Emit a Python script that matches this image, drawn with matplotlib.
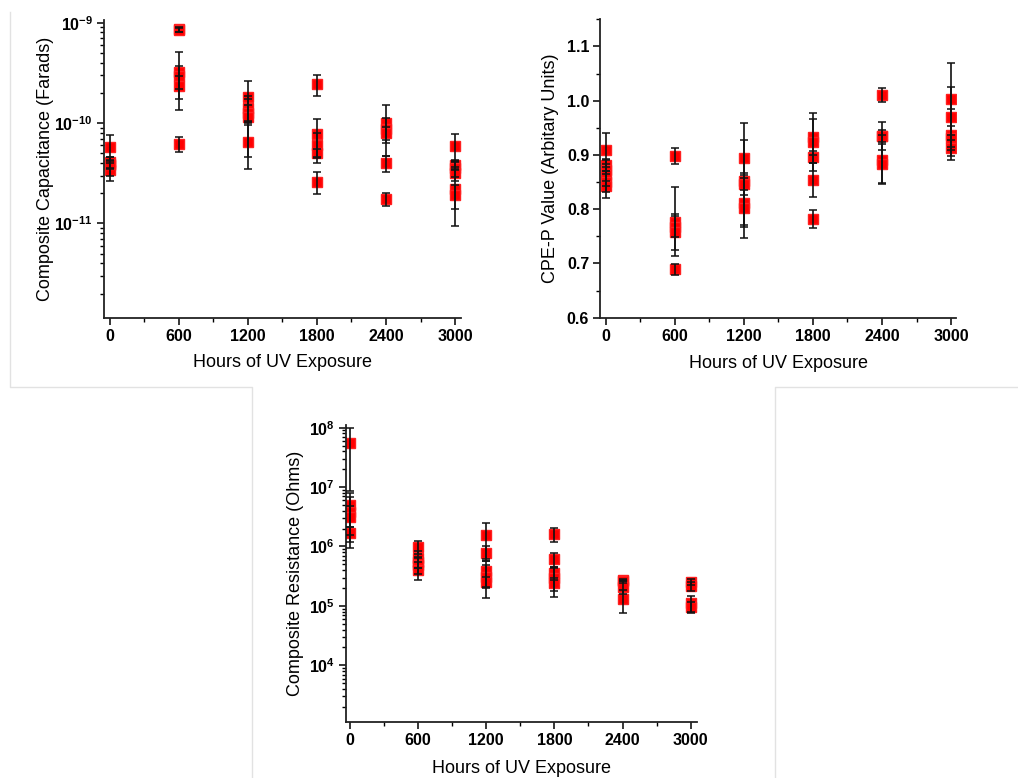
import numpy as np
import matplotlib
matplotlib.use('Agg')
import matplotlib.pyplot as plt
from matplotlib.lines import Line2D
from matplotlib.ticker import FixedLocator, LogLocator, FuncFormatter, NullFormatter, MultipleLocator

plt.rcParams['font.family'] = ['Liberation Sans', 'DejaVu Sans']
plt.rcParams['mathtext.fontset'] = 'custom'
plt.rcParams['mathtext.rm'] = 'Liberation Sans'
plt.rcParams['mathtext.bf'] = 'Liberation Sans:bold'

hours = [0, 600, 1200, 1800, 2400, 3000]

# composite capacitance (F), one list per exposure time
cap_vals = [[5.8e-11, 4.1e-11, 3.8e-11, 3.4e-11, 3.9e-11],
            [8.6e-10, 8.4e-10, 3.25e-10, 2.94e-10, 2.34e-10, 6.2e-11],
            [1.83e-10, 1.4e-10, 1.25e-10, 1.16e-10, 6.5e-11],
            [2.43e-10, 7.8e-11, 6.0e-11, 5.0e-11, 2.6e-11],
            [9.9e-11, 8.8e-11, 7.9e-11, 3.96e-11, 1.75e-11],
            [5.9e-11, 3.8e-11, 3.6e-11, 3.15e-11, 2.2e-11, 1.9e-11]]
cap_errs = [[1.8e-11, 0.5e-11, 0.8e-11, 0.75e-11, 0.4e-11],
            [0.5e-10, 0.4e-10, 1.9e-10, 0.78e-10, 0.6e-10, 1.1e-11],
            [0.8e-10, 0.35e-10, 0.25e-10, 0.7e-10, 3.0e-11],
            [0.55e-10, 3.2e-11, 2.0e-11, 0.5e-11, 0.62e-11],
            [5.2e-11, 2.5e-11, 1.2e-11, 0.7e-11, 0.27e-11],
            [1.8e-11, 0.4e-11, 0.7e-11, 0.5e-11, 1.25e-11, 0.5e-11]]

# CPE-P exponent
cpe_vals = [[0.909, 0.881, 0.872, 0.863, 0.851, 0.842],
            [0.898, 0.777, 0.768, 0.758, 0.689],
            [0.895, 0.852, 0.847, 0.812, 0.803],
            [0.933, 0.924, 0.897, 0.854, 0.782],
            [1.010, 0.935, 0.935, 0.891, 0.884],
            [1.003, 0.970, 0.937, 0.932, 0.913]]
cpe_errs = [[0.031, 0.010, 0.020, 0.020, 0.020, 0.022],
            [0.014, 0.063, 0.020, 0.033, 0.010],
            [0.032, 0.106, 0.020, 0.045, 0.032],
            [0.033, 0.053, 0.011, 0.032, 0.016],
            [0.013, 0.011, 0.026, 0.045, 0.036],
            [0.067, 0.056, 0.047, 0.022, 0.015]]

# composite resistance (Ohm)
res_vals = [[5.45e7, 4.99e6, 3.86e6, 3.18e6, 1.67e6],
            [9.9e5, 6.3e5, 5.5e5, 4.9e5, 4.1e5],
            [1.56e6, 7.9e5, 3.8e5, 3.1e5, 2.56e5],
            [1.62e6, 6.1e5, 3.6e5, 2.9e5, 2.4e5],
            [2.7e5, 2.6e5, 2.1e5, 1.29e5],
            [2.56e5, 2.16e5, 1.14e5, 9.5e4]]
res_errs = [[4.6e7, 2.9e6, 2.9e6, 1.6e6, 0.5e6],
            [2.5e5, 2.0e5, 1.2e5, 1.4e5, 1.4e5],
            [0.95e6, 2.1e5, 1.8e5, 1.75e5, 0.5e5],
            [0.43e6, 1.6e5, 0.9e5, 1.47e5, 0.6e5],
            [0.1e5, 0.15e5, 0.5e5, 0.54e5],
            [0.3e5, 0.4e5, 0.35e5, 2.0e4]]

W, H = 1018, 778


def px_rect(left, top, right, bottom):
    return [left / W, 1 - bottom / H, (right - left) / W, (bottom - top) / H]


def draw_groups(ax, vals, errs):
    for h, v, e in zip(hours, vals, errs):
        x = [h] * len(v)
        ax.plot(x, v, 's', color='#ff0000', mec='#ff2020', ms=7, zorder=2)
        ax.errorbar(x, v, yerr=e, fmt='none', ecolor='#111111', elinewidth=1.2,
                    capsize=3, capthick=1.1, zorder=3)


def style_axes(ax, xlim, ylabel, ylab_x):
    ax.set_xlim(*xlim)
    for s in ['top', 'right']:
        ax.spines[s].set_visible(False)
    for s in ['left', 'bottom']:
        ax.spines[s].set_linewidth(1.3)
        ax.spines[s].set_color('#222222')
    ax.xaxis.set_major_locator(FixedLocator(hours))
    ax.xaxis.set_minor_locator(MultipleLocator(300))
    ax.tick_params(which='major', direction='out', length=5, width=1.1,
                   labelsize=11.5, pad=3)
    ax.tick_params(which='minor', direction='out', length=2.8, width=1.0)
    for lab in ax.get_xticklabels() + ax.get_yticklabels():
        lab.set_fontweight('bold')
    ax.set_xlabel('Hours of UV Exposure', fontsize=13)
    ax.set_ylabel(ylabel, fontsize=13)
    ax.xaxis.label.set_va('center')
    ax.yaxis.label.set_va('center')
    ax.xaxis.set_label_coords(0.5, -0.152)
    ax.yaxis.set_label_coords(ylab_x, 0.5)


def log_label(v, pos):
    return r'$\mathbf{10^{%d}}$' % int(round(np.log10(v)))


fig = plt.figure(figsize=(W / 100, H / 100), dpi=100)

# capacitance
ax1 = fig.add_axes(px_rect(104, 20, 460.7, 317.7))
draw_groups(ax1, cap_vals, cap_errs)
ax1.set_yscale('log')
ax1.set_ylim(10 ** -11.94, 10 ** -8.973)
ax1.yaxis.set_major_locator(FixedLocator([1e-11, 1e-10, 1e-9]))
ax1.yaxis.set_major_formatter(FuncFormatter(log_label))
ax1.yaxis.set_minor_locator(LogLocator(base=10, subs=np.arange(2, 10)))
ax1.yaxis.set_minor_formatter(NullFormatter())
style_axes(ax1, (-49, 3049), 'Composite Capacitance (Farads)', -0.165)

# CPE-P
ax2 = fig.add_axes(px_rect(600.3, 19.3, 956, 317.7))
draw_groups(ax2, cpe_vals, cpe_errs)
ax2.set_ylim(0.6, 1.15)
ax2.yaxis.set_major_locator(FixedLocator([0.6, 0.7, 0.8, 0.9, 1.0, 1.1]))
ax2.yaxis.set_major_formatter(FuncFormatter(lambda v, p: '%.1f' % v))
ax2.yaxis.set_minor_locator(MultipleLocator(0.05))
style_axes(ax2, (-47, 3043), 'CPE-P Value (Arbitary Units)', -0.139)

# resistance
ax3 = fig.add_axes(px_rect(345.7, 425, 696.7, 722.3))
draw_groups(ax3, res_vals, res_errs)
ax3.set_yscale('log')
ax3.set_ylim(10 ** 3.041, 10 ** 8.045)
ax3.yaxis.set_major_locator(FixedLocator([1e4, 1e5, 1e6, 1e7, 1e8]))
ax3.yaxis.set_major_formatter(FuncFormatter(log_label))
ax3.yaxis.set_minor_locator(LogLocator(base=10, subs=np.arange(2, 10)))
ax3.yaxis.set_minor_formatter(NullFormatter())
style_axes(ax3, (-38, 3053), 'Composite Resistance (Ohms)', -0.144)
ax3.xaxis.set_label_coords(0.5, -0.154)

# faint panel frames
def frame(xs, ys):
    fig.add_artist(Line2D([x / W for x in xs], [1 - y / H for y in ys],
                          transform=fig.transFigure, color='#e2e2e2', lw=1.0))

frame([10, 10, 252, 252], [12, 387, 387, 778])
frame([775, 775, 1018], [778, 387, 387])

fig.savefig('out.png', dpi=100)
